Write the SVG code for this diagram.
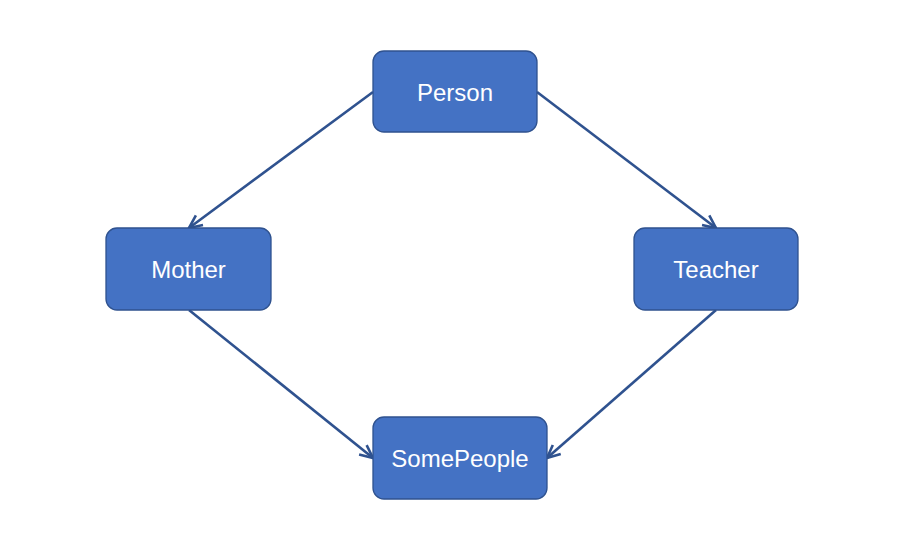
<svg xmlns="http://www.w3.org/2000/svg" width="899" height="554" viewBox="0 0 899 554">
<style>
.node rect{fill:#4472C4;stroke:#2F528F;stroke-width:1.3}
.node text{fill:#FFFFFF;font-family:"Liberation Sans",Arial,sans-serif;font-size:24px;text-anchor:middle}
.edge{fill:none;stroke:#2F528F;stroke-width:2.6}
</style>
<defs>
<marker id="arr" viewBox="0 0 16 16" refX="15" refY="8" markerWidth="16" markerHeight="16" markerUnits="userSpaceOnUse" orient="auto">
<path d="M2,2 L15,8 L2,14" fill="none" stroke="#2F528F" stroke-width="2.6"/>
</marker>
</defs>
<rect width="899" height="554" fill="#FFFFFF"/>
<g id="connectors">
<line class="edge" x1="373" y1="92" x2="189" y2="228" marker-end="url(#arr)"/>
<line class="edge" x1="537" y1="92" x2="716" y2="228" marker-end="url(#arr)"/>
<line class="edge" x1="189" y1="310" x2="373" y2="458" marker-end="url(#arr)"/>
<line class="edge" x1="716" y1="310" x2="547" y2="458" marker-end="url(#arr)"/>
</g>
<g id="person" class="node"><rect x="373" y="51" width="164" height="81" rx="11"/><text x="455" y="100.5">Person</text></g>
<g id="mother" class="node"><rect x="106" y="228" width="165" height="82" rx="11"/><text x="188.5" y="278">Mother</text></g>
<g id="teacher" class="node"><rect x="634" y="228" width="164" height="82" rx="11"/><text x="716" y="278">Teacher</text></g>
<g id="somepeople" class="node"><rect x="373" y="417" width="174" height="82" rx="11"/><text x="460" y="467">SomePeople</text></g>
</svg>
